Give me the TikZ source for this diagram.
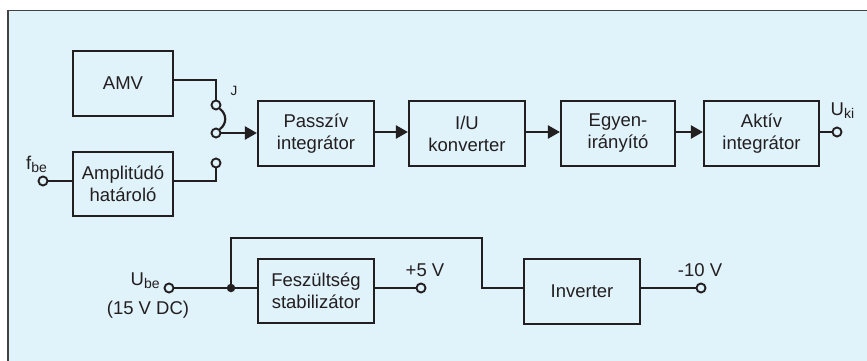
\documentclass[tikz,border=0pt]{standalone}
\usepackage{fontspec}
\setmainfont{Liberation Sans}
\usetikzlibrary{arrows.meta,calc}
\definecolor{bgblue}{HTML}{E0F2FA}
\definecolor{ink}{HTML}{231F20}
\tikzset{
  blk/.style={draw=ink,line width=2.2pt,minimum width=116pt,minimum height=65pt,inner sep=0pt,align=center,
     font=\fontsize{18.5}{22}\selectfont,text=ink},
  wire/.style={draw=ink,line width=2.2pt},
  arr/.style={wire,-{Triangle[length=12pt,width=13pt]}},
  term/.style={circle,draw=ink,fill=bgblue,line width=1.9pt,minimum size=9pt,inner sep=0pt},
  dot/.style={circle,fill=ink,minimum size=8.5pt,inner sep=0pt},
  lbl/.style={font=\fontsize{18.5}{22}\selectfont,text=ink,inner sep=0pt},
}
\newcommand{\subtxt}[1]{{\fontsize{14}{14}\selectfont\raisebox{-3pt}{#1}}}
\begin{document}
\begin{tikzpicture}[x=1pt,y=-1pt]
\useasboundingbox (0,0) rectangle (867,361);
\fill[white] (0,0) rectangle (867,361);
\fill[bgblue] (8,10.5) rectangle (867,361);
\draw[ink!85,line width=1.4pt] (8,361) -- (8,10.5) -- (867,10.5);

% top row
\node[blk,minimum width=100pt] (amv) at (123,83.5) {AMV};
\node[blk,minimum width=100pt,minimum height=64pt] (amp) at (123,184) {Amplitúdó\\határoló};
\node[term] (fbe) at (43,181) {};
\node[lbl,anchor=base west] (fbel) at (26,169) {f\subtxt{be}};

\node[term] (c1) at (216,105) {};
\node[term] (c2) at (216,133) {};
\node[term] (c3) at (216,163) {};
\node[lbl,font=\fontsize{13.5}{13.5}\selectfont,anchor=base] (jl) at (234,95) {J};

\node[blk] (pas) at (316,133.5) {Passzív\\integrátor};
\node[blk] (iu) at (467,133.5) {I/U\\konverter};
\node[blk,minimum width=114pt] (egy) at (618,133.5) {Egyen-\\irányító};
\node[blk,minimum width=115pt] (akt) at (761.5,133.5) {Aktív\\integrátor};
\node[term] (uki) at (837,132) {};
\node[lbl,anchor=base west] (ukil) at (830.5,115) {U\subtxt{ki}};

\draw[wire] (amv.east |- 0,80) -| (c1.north);
\draw[wire] (fbe.east) -- (fbe -| amp.west);
\draw[wire] (amp.east |- 0,181) -| (c3.south);
\draw[wire] (c1.south east) .. controls (227,114) and (227,124) .. (c2.north east);
\draw[arr] (c2.east) -- (c2 -| pas.west);
\draw[arr] (pas.east |- 0,132) -- (iu.west |- 0,132);
\draw[arr] (iu.east |- 0,132) -- (egy.west |- 0,132);
\draw[arr] (egy.east |- 0,132) -- (akt.west |- 0,132);
\draw[wire] (akt.east |- 0,132) -- (uki.west);

% bottom row
\node[term] (ube) at (169,288) {};
\node[lbl,anchor=base west] (ubel) at (130.5,285) {U\subtxt{be}};
\node[lbl,anchor=base] (ubedc) at (148,314) {(15 V DC)};
\node[dot] (jn) at (231,288) {};
\node[blk,minimum height=64pt] (fesz) at (316,291) {Feszültség\\stabilizátor};
\node[term] (p5) at (421,288) {};
\node[lbl,anchor=base] (p5l) at (425,276.5) {+5 V};
\node[blk] (inv) at (582,291.5) {Inverter};
\node[term] (m10) at (701,288) {};
\node[lbl,anchor=base] (m10l) at (700,276.5) {-10 V};
\coordinate (tl) at (231,238);
\coordinate (tr) at (482,238);

\draw[wire] (ube.east) -- (jn) -- (jn -| fesz.west);
\draw[wire] (fesz.east |- 0,288) -- (p5.west);
\draw[wire] (jn) -- (tl) -- (tr) -- (tr |- 0,288) -- (inv.west |- 0,288);
\draw[wire] (inv.east |- 0,288) -- (m10.west);
\end{tikzpicture}
\end{document}
